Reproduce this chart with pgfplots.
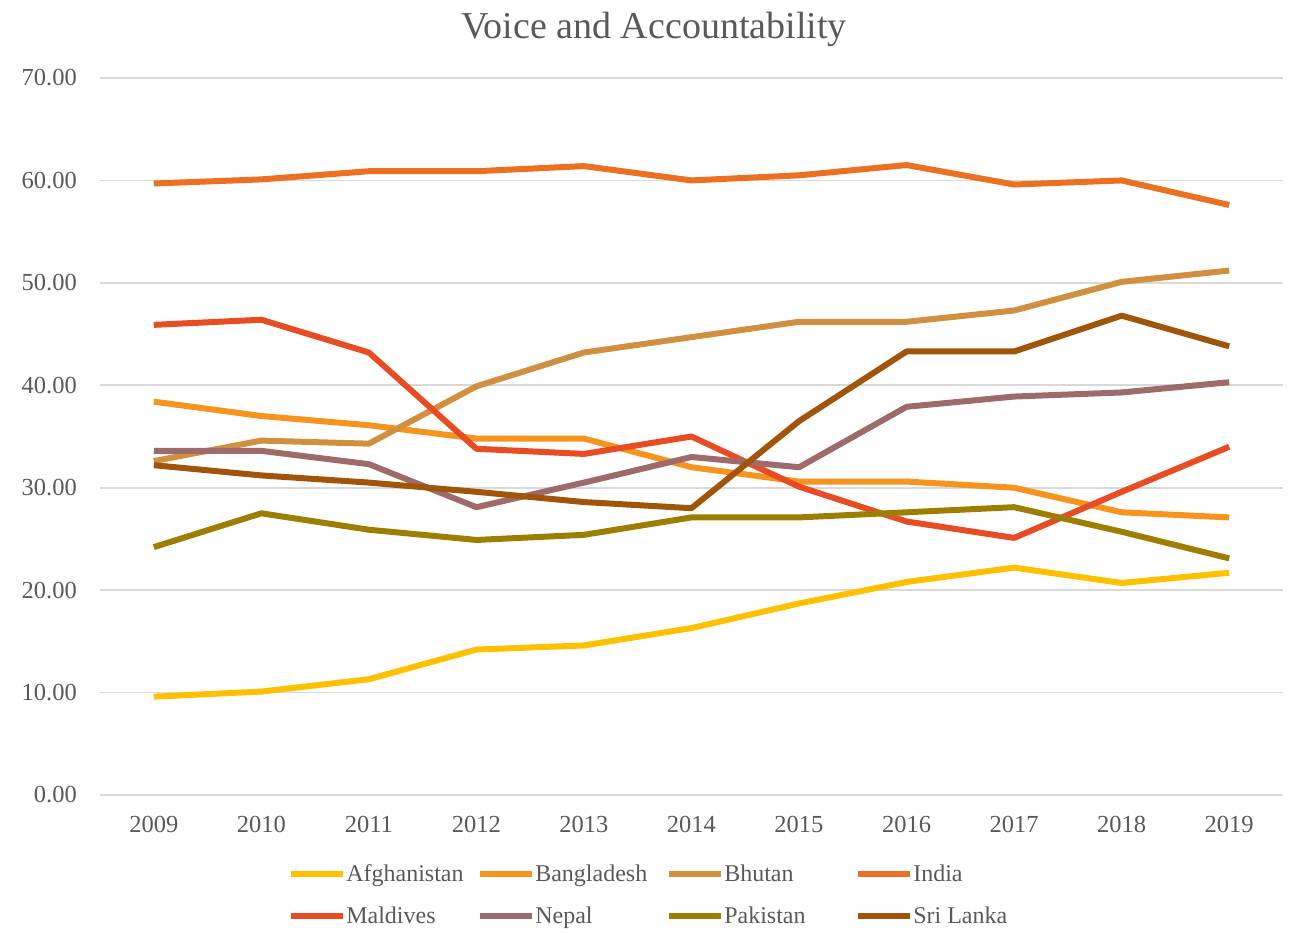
\documentclass[border=0pt]{standalone}
\usepackage{fontspec}
\setmainfont{Liberation Serif}
\usepackage{pgfplots}
\usepackage{pgfplotstable}
\pgfplotsset{compat=1.18}
\definecolor{txt}{HTML}{595959}
\definecolor{gridc}{HTML}{D9D9D9}
\definecolor{cAfg}{HTML}{FFC000}
\definecolor{cBan}{HTML}{F7941D}
\definecolor{cBhu}{HTML}{D09040}
\definecolor{cInd}{HTML}{EC7022}
\definecolor{cMal}{HTML}{E84C22}
\definecolor{cNep}{HTML}{9E6A6A}
\definecolor{cPak}{HTML}{9E7E00}
\definecolor{cSri}{HTML}{A0550A}
\pgfplotstableread{
year Afg Ban Bhu Ind Mal Nep Pak Sri
2009 9.6 38.4 32.6 59.7 45.9 33.6 24.2 32.2
2010 10.1 37.0 34.6 60.1 46.4 33.6 27.5 31.2
2011 11.3 36.1 34.3 60.9 43.2 32.3 25.9 30.5
2012 14.2 34.8 39.9 60.9 33.8 28.1 24.9 29.6
2013 14.6 34.8 43.2 61.4 33.3 30.5 25.4 28.6
2014 16.3 32.0 44.7 60.0 35.0 33.0 27.1 28.0
2015 18.7 30.6 46.2 60.5 30.1 32.0 27.1 36.5
2016 20.8 30.6 46.2 61.5 26.7 37.9 27.6 43.3
2017 22.2 30.0 47.3 59.6 25.1 38.9 28.1 43.3
2018 20.7 27.6 50.1 60.0 29.6 39.3 25.7 46.8
2019 21.7 27.1 51.2 57.6 34.0 40.3 23.1 43.8
}\data
\begin{document}
\begin{tikzpicture}[x=1pt,y=1pt]
\useasboundingbox (0,0) rectangle (1289,932);
\node[text=txt,font=\fontsize{38}{42}\selectfont,inner sep=0] at (654,903) {Voice and Accountability};
\begin{axis}[
  at={(100pt,137pt)}, anchor=south west,
  width=1183pt, height=717pt, scale only axis,
  xmin=2008.5, xmax=2019.5, ymin=0, ymax=70,
  xtick={2009,...,2019}, ytick={0,10,...,70},
  axis line style={draw=none},
  ymajorgrids=true,
  major grid style={gridc, line width=1.7pt},
  major tick length=0pt,
  tick style={draw=none},
  /pgf/number format/assume math mode=true,
  xticklabel style={/pgf/number format/1000 sep={}, anchor=north, inner sep=0pt, yshift=-21pt, font=\fontsize{24.5}{28}\selectfont, text=txt},
  yticklabel style={/pgf/number format/fixed, /pgf/number format/fixed zerofill, /pgf/number format/precision=2, anchor=east, inner sep=0pt, xshift=-23pt, font=\fontsize{24.5}{28}\selectfont, text=txt},
  legend columns=4,
  legend cell align=left,
  legend image code/.code={\draw[#1, line cap=butt] (0pt,0pt) -- (52pt,0pt);},
  legend style={draw=none, fill=none, at={(0.159,-0.097)}, anchor=north west, inner sep=0pt,
    font=\fontsize{24}{28}\selectfont, text=txt, row sep=24pt,
    nodes={inner sep=0pt},
    /tikz/every even column/.append style={column sep=7pt}},
  every axis plot/.append style={line width=6pt, line join=round, line cap=butt},
]
\addplot[cAfg] table[x=year,y=Afg] {\data};
\addlegendentry{\makebox[124pt][l]{Afghanistan}}
\addplot[cBan] table[x=year,y=Ban] {\data};
\addlegendentry{\makebox[124pt][l]{Bangladesh}}
\addplot[cBhu] table[x=year,y=Bhu] {\data};
\addlegendentry{\makebox[124pt][l]{Bhutan}}
\addplot[cInd] table[x=year,y=Ind] {\data};
\addlegendentry{\makebox[124pt][l]{India}}
\addplot[cMal] table[x=year,y=Mal] {\data};
\addlegendentry{\makebox[124pt][l]{Maldives}}
\addplot[cNep] table[x=year,y=Nep] {\data};
\addlegendentry{\makebox[124pt][l]{Nepal}}
\addplot[cPak] table[x=year,y=Pak] {\data};
\addlegendentry{\makebox[124pt][l]{Pakistan}}
\addplot[cSri] table[x=year,y=Sri] {\data};
\addlegendentry{\makebox[124pt][l]{Sri Lanka}}
\end{axis}
\end{tikzpicture}
\end{document}
